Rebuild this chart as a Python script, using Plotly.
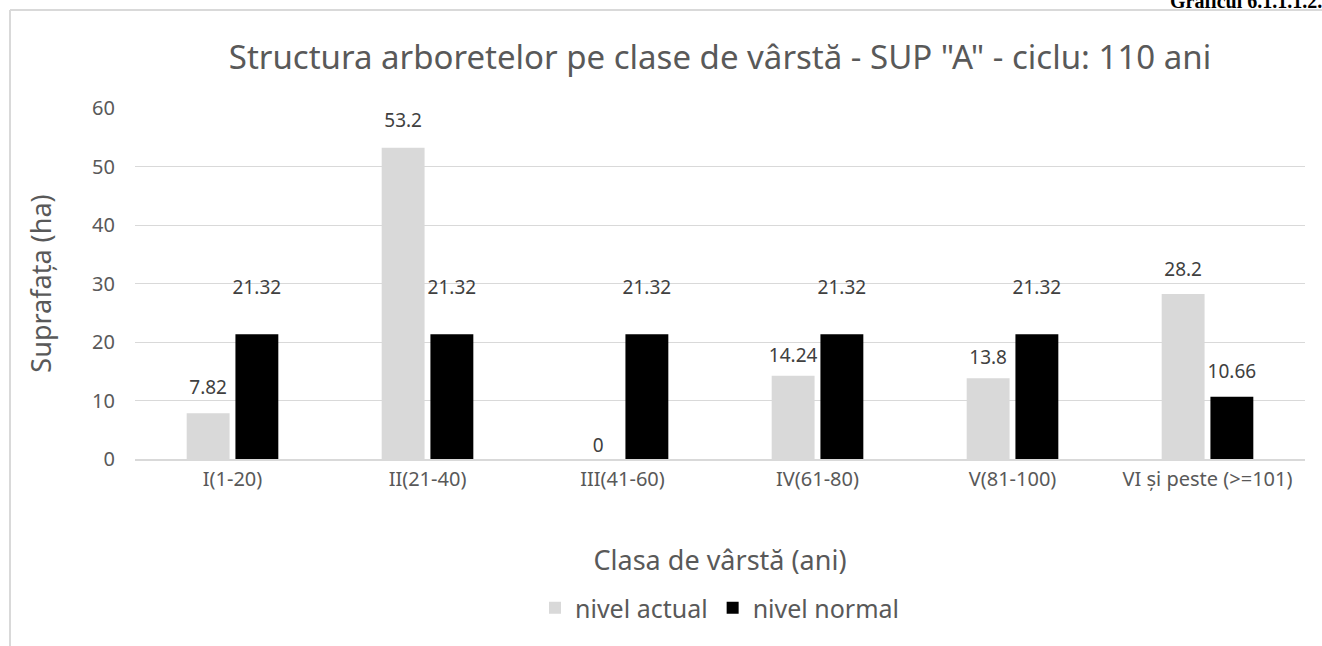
import plotly.graph_objects as go

categories = ["I(1-20)", "II(21-40)", "III(41-60)", "IV(61-80)", "V(81-100)", "VI și peste (>=101)"]
nivel_actual = [7.82, 53.2, 0, 14.24, 13.8, 28.2]
nivel_normal = [21.32, 21.32, 21.32, 21.32, 21.32, 10.66]
y_ticks = [0, 10, 20, 30, 40, 50, 60]

# label lift (style only): spacing of each data label above its bar
lift_actual = [21, 24, 2, 12, 14, 20]
lift_normal = [55, 55, 55, 55, 55, 21]

FONT = "Noto Sans"
TXT = "#595959"

series = [("nivel actual", nivel_actual, "#d9d9d9", lift_actual),
          ("nivel normal", nivel_normal, "#000000", lift_normal)]

fig = go.Figure()
for i, (name, vals, col, lift) in enumerate(series):
    fig.add_trace(go.Bar(
        name=name, x=categories, y=vals, offsetgroup=str(i),
        marker=dict(color=col, line=dict(width=0)),
    ))
for i, (name, vals, col, lift) in enumerate(series):
    fig.add_trace(go.Scatter(
        x=categories, y=vals, offsetgroup=str(i), mode="markers+text",
        marker=dict(size=lift, opacity=0), showlegend=False, hoverinfo="skip",
        text=[f"{v:g}" for v in vals], textposition="top center",
        textfont=dict(family=FONT, size=19, color="#404040"), cliponaxis=False,
    ))

L, R, T, B = 135, 17, 108, 187
W, H = 1322, 646
pw, ph = W - L - R, H - T - B

def px(x):
    return (x - L) / pw

def py(y):
    return (H - B - y) / ph

fig.update_layout(
    width=W, height=H,
    margin=dict(l=L, r=R, t=T, b=B),
    paper_bgcolor="white", plot_bgcolor="white",
    barmode="group", bargap=0.5, bargroupgap=0.12,
    scattermode="group", scattergap=0.5,
    font=dict(family=FONT, color=TXT),
    title=dict(text='Structura arboretelor pe clase de vârstă - SUP "A" - ciclu: 110 ani',
               font=dict(family=FONT, size=33, color=TXT),
               x=0.5, xanchor="center", xref="paper", y=1 - 57 / H, yanchor="middle"),
    showlegend=True,
    legend=dict(orientation="h", x=0.5, xanchor="center", y=py(608), yanchor="middle",
                font=dict(family=FONT, size=25, color=TXT), traceorder="normal",
                itemwidth=30),
    xaxis=dict(
        categoryorder="array", categoryarray=categories,
        tickfont=dict(family=FONT, size=20, color=TXT),
        showgrid=False, showline=True, linecolor="#d9d9d9", linewidth=1.5,
        ticks="", ticklabelstandoff=1,
        title=dict(text="Clasa de vârstă (ani)", font=dict(family=FONT, size=27, color=TXT), standoff=60),
    ),
    yaxis=dict(
        range=[0, 60], tickvals=y_ticks, ticktext=[str(t) for t in y_ticks],
        tickfont=dict(family=FONT, size=20, color=TXT),
        showgrid=True, gridcolor="#d9d9d9", gridwidth=1.3, zeroline=False,
        ticks="", ticklabelstandoff=19,
        title=dict(text="Suprafața (ha)", font=dict(family=FONT, size=27, color=TXT), standoff=32),
    ),
    shapes=[
        dict(type="line", xref="paper", yref="paper", x0=px(10), x1=px(W + 5), y0=py(10), y1=py(10),
             line=dict(color="#d9d9d9", width=2)),
        dict(type="line", xref="paper", yref="paper", x0=px(10), x1=px(10), y0=py(10), y1=py(H + 5),
             line=dict(color="#d9d9d9", width=2)),
    ],
    annotations=[
        dict(text="<b>Graficul 6.1.1.1.2.</b>", xref="paper", yref="paper", x=px(W + 2), y=py(14),
             xanchor="right", yanchor="bottom", showarrow=False,
             font=dict(family="Liberation Serif", size=20, color="#000000")),
    ],
)

fig.write_html("out.html", config={"displayModeBar": False},
               post_script="document.body.style.margin='0';document.body.style.overflow='hidden';")
